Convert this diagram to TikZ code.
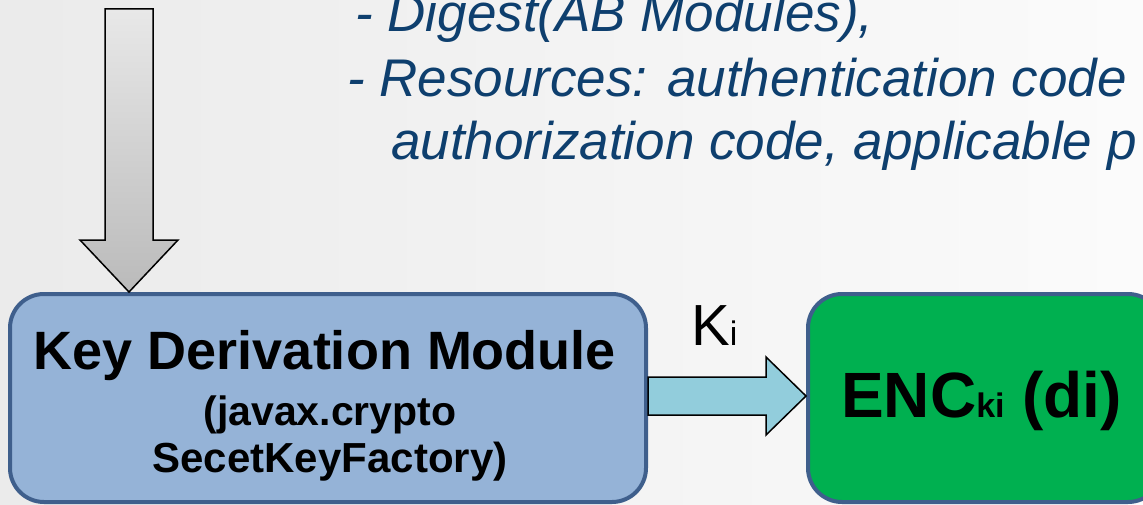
\documentclass[tikz,border=0pt]{standalone}
\usepackage{fontspec}
\setmainfont{Liberation Sans}
\usetikzlibrary{calc}
\definecolor{txtblue}{HTML}{0E3F6E}
\definecolor{boxblue}{HTML}{95B3D7}
\definecolor{boxedge}{HTML}{3F5F8C}
\definecolor{encgreen}{HTML}{00B050}
\definecolor{arrowcyan}{HTML}{92CDDC}
\tikzset{
  box/.style={draw=boxedge, line width=4pt, rounded corners=34pt, inner sep=0pt},
  toptext/.style={anchor=base west, inner sep=0pt, text=txtblue, font=\fontsize{53}{60}\selectfont\itshape},
  boxtext/.style={anchor=base, inner sep=0pt, text=black},
  blockarrow/.style={draw=black, line width=1.5pt, line join=miter}
}
\begin{document}
\begin{tikzpicture}[x=1pt,y=-1pt]
\useasboundingbox (0,0) rectangle (1143,505);
\clip (0,0) rectangle (1143,505);
\shade[left color=black!8, right color=black!1.5] (0,0) rectangle (1143,505);

% top text
\node[toptext] (t1) at (355,32) {- Digest(AB Modules),};
\node[toptext] (t2) at (347,97) {- Resources: authentication code};
\node[toptext] (t3) at (391,160) {authorization code, applicable p};

% boxes
\node[box, fill=boxblue, minimum width=636pt, minimum height=208pt] (kdm) at (328,398) {};
\node[box, fill=encgreen, minimum width=354pt, minimum height=208pt, anchor=west] (enc) at (806,398) {};

% box texts
\node[boxtext, font=\fontsize{54}{60}\selectfont\bfseries] (l1) at (325,369) {Key Derivation Module};
\node[boxtext, font=\fontsize{41}{46}\selectfont\bfseries] (l2) at (330,425) {(javax.crypto};
\node[boxtext, font=\fontsize{42}{46}\selectfont\bfseries] (l3) at (330,472) {SecetKeyFactory)};
\node[boxtext, anchor=base west, font=\fontsize{64}{70}\selectfont\bfseries] (enctext) at (841,417) {ENC{\fontsize{34}{38}\selectfont ki} (di)};

% grey down arrow
\shade[top color=black!9, bottom color=black!27, draw=black, line width=1.5pt, line join=miter]
  (105,9) -- (153,9) -- (153,240) -- (178,240) -- (kdm.north -| 129,0) -- (80,240) -- (105,240) -- cycle;

% Ki arrow
\path[fill=arrowcyan, blockarrow]
  (kdm.east |- 0,377) -- (766,377) -- (766,357) -- (enc.west |- 0,396) -- (766,435) -- (766,415) -- (kdm.east |- 0,415) -- cycle;
\node[anchor=base west, inner sep=0pt, font=\fontsize{58}{60}\selectfont] (ki) at (691,345) {K{\fontsize{34}{38}\selectfont i}};
\end{tikzpicture}
\end{document}
